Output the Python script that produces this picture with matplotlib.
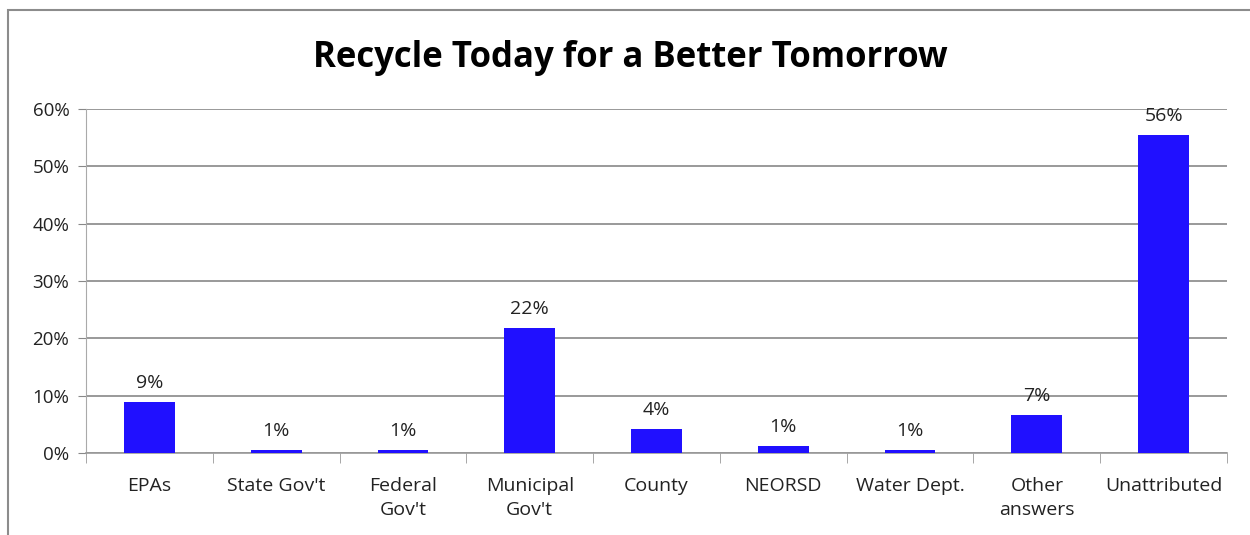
import matplotlib.pyplot as plt
from matplotlib.patches import Rectangle
from matplotlib.ticker import FuncFormatter, FixedLocator

categories = ["EPAs", "State Gov't", "Federal\nGov't", "Municipal\nGov't", "County",
              "NEORSD", "Water Dept.", "Other\nanswers", "Unattributed"]
values = [8.9, 0.6, 0.6, 21.8, 4.2, 1.2, 0.6, 6.6, 55.5]
labels = ["9%", "1%", "1%", "22%", "4%", "1%", "1%", "7%", "56%"]

plt.rcParams["font.family"] = ["Open Sans", "DejaVu Sans"]

fig = plt.figure(figsize=(12.5, 5.35), dpi=100)
ax = fig.add_axes([86 / 1250, 1 - 453 / 535, (1227 - 86) / 1250, (453 - 109) / 535])

# chart border (cropped at right and bottom)
fig.patches.append(Rectangle((8 / 1250, -0.05), 1.1, 1 - 10 / 535 + 0.05,
                             transform=fig.transFigure, fill=False,
                             edgecolor="#8c8c8c", linewidth=1.5))

x = list(range(len(categories)))
ax.bar(x, values, width=0.4, color="#2010FF", zorder=3)
for xi, v, lab in zip(x, values, labels):
    ax.annotate(lab, (xi, v), xytext=(0, 7), textcoords="offset points",
                ha="center", va="bottom", fontsize=14, color="#222222")

ax.set_xlim(-0.5, len(categories) - 0.5)
ax.set_ylim(0, 60)
ax.set_yticks(range(0, 61, 10))
ax.yaxis.set_major_formatter(FuncFormatter(lambda v, p: f"{int(v)}%"))
ax.grid(axis="y", color="#888888", linewidth=1.2, zorder=0)
ax.set_xticks(x)
ax.set_xticklabels(categories, fontsize=14, color="#222222", linespacing=1.45)
ax.xaxis.set_minor_locator(FixedLocator([i - 0.5 for i in range(len(categories) + 1)]))
ax.tick_params(axis="x", which="major", length=0, pad=17)
ax.tick_params(axis="x", which="minor", length=7, color="#999999")
ax.tick_params(axis="y", length=6, color="#888888", labelsize=13.5, labelcolor="#222222", pad=6)
for s in ["top", "right"]:
    ax.spines[s].set_visible(False)
ax.spines["left"].set_color("#aaaaaa")
ax.spines["bottom"].set_color("#999999")
ax.spines["bottom"].set_linewidth(1.2)

fig.text(630 / 1250, 1 - 58 / 535, "Recycle Today for a Better Tomorrow",
         ha="center", va="center", fontsize=25, fontweight="bold", color="black")

fig.savefig("out.png", dpi=100)
